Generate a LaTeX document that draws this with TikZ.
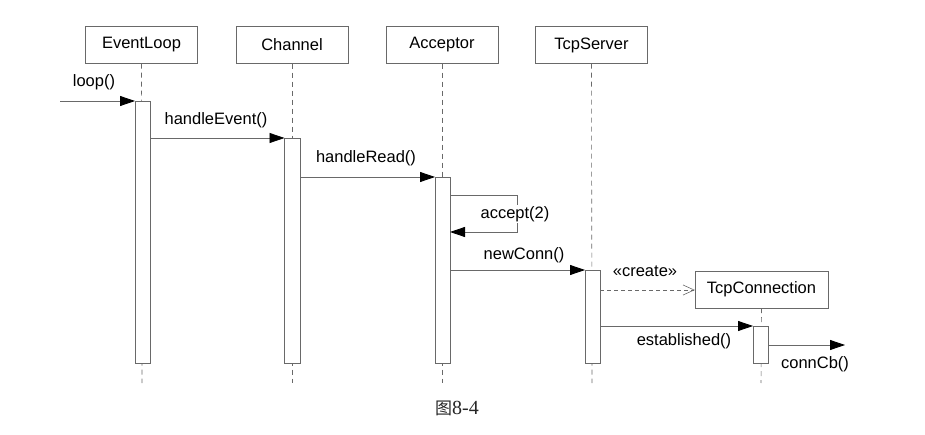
\documentclass[tikz,border=0pt]{standalone}
\usepackage{fontspec}
\setmainfont{Liberation Sans}
\newfontfamily\cjk{Noto Sans CJK SC}
\newfontfamily\capfont{Liberation Serif}
\usetikzlibrary{arrows.meta}
\definecolor{ln}{RGB}{105,105,105}
\tikzset{
  obj/.style={draw=ln, fill=white, minimum width=112pt, minimum height=37pt, inner sep=0pt, font=\fontsize{16.5}{19}\selectfont},
  life/.style={draw=ln, dashed, dash pattern=on 5pt off 4pt, line width=0.6pt},
  act/.style={draw=ln, fill=white, line width=0.8pt},
  msg/.style={draw=ln, line width=0.8pt, -{Triangle[length=15pt,width=10pt,fill=black,color=black]}},
  crt/.style={draw=ln, line width=0.7pt, dashed, dash pattern=on 4pt off 3pt, -{Straight Barb[length=11pt,width=10pt,line width=0.6pt]}},
  lbl/.style={font=\fontsize{16.5}{19}\selectfont, inner sep=1pt}
}
\begin{document}
\begin{tikzpicture}[x=1pt,y=-1pt]
\useasboundingbox (0,0) rectangle (925,435);
% objects
\node[obj] (el) at (141.5,45) {EventLoop};
\node[obj] (ch) at (292,45) {Channel};
\node[obj] (ac) at (442,45) {Acceptor};
\node[obj] (ts) at (591.5,45) {TcpServer};
\node[obj, minimum width=133pt] (tc) at (761.5,289.5) {TcpConnection};
% lifelines
\coordinate (elE) at (142,383);
\coordinate (chE) at (292,383);
\coordinate (acE) at (442,383);
\coordinate (tsE) at (592,383);
\coordinate (tcE) at (761,383);
\draw[life] (el.south) -- (elE);
\draw[life] (ch.south) -- (chE);
\draw[life] (ac.south) -- (acE);
\draw[life] (ts.south) -- (tsE);
\draw[life] (tc.south) -- (tcE);
% activations
\draw[act] (135,101) rectangle (150,363);
\draw[act] (284.5,138) rectangle (300,363);
\draw[act] (435,177) rectangle (450,363);
\draw[act] (585,270) rectangle (600,363);
\draw[act] (753,326) rectangle (768,363);
\coordinate (elA) at (135,101);
\coordinate (loopS) at (60,101);
\coordinate (elB) at (150,138);
\coordinate (chA) at (284.5,138);
\coordinate (chB) at (300,177);
\coordinate (acA) at (435,177);
\coordinate (acS1) at (450,195);
\coordinate (acS2) at (450,232);
\coordinate (acB) at (450,270);
\coordinate (tsA) at (585,270);
\coordinate (tsB) at (600,290);
\coordinate (tsC) at (600,326);
\coordinate (tcA) at (753,326);
\coordinate (tcB) at (768,345);
\coordinate (cbE) at (845,345);
% messages
\draw[msg] (loopS) -- (elA);
\node[lbl] (l1) at (94,82) {loop()};
\draw[msg] (elB) -- (chA);
\node[lbl] (l2) at (216,120) {handleEvent()};
\draw[msg] (chB) -- (acA);
\node[lbl] (l3) at (366,158) {handleRead()};
\draw[msg] (acS1) -- (517,195) -- (517,232) -- (acS2);
\node[lbl, fill=white] (l4) at (515,214) {accept(2)};
\draw[msg] (acB) -- (tsA);
\node[lbl] (l5) at (524,255) {newConn()};
\draw[crt] (tsB) -- (tc.west |- tsB);
\node[lbl] (l6) at (645,271) {«create»};
\draw[msg] (tsC) -- (tcA);
\node[lbl] (l7) at (684,341) {established()};
\draw[msg] (tcB) -- (cbE);
\node[lbl] (l8) at (815,364) {connCb()};
% caption
\node[inner sep=0pt, text=black!85] (cap) at (457,408) {{\fontsize{17}{19}\selectfont\cjk 图}{\fontsize{20}{22}\selectfont\capfont 8-4}};
\end{tikzpicture}
\end{document}
